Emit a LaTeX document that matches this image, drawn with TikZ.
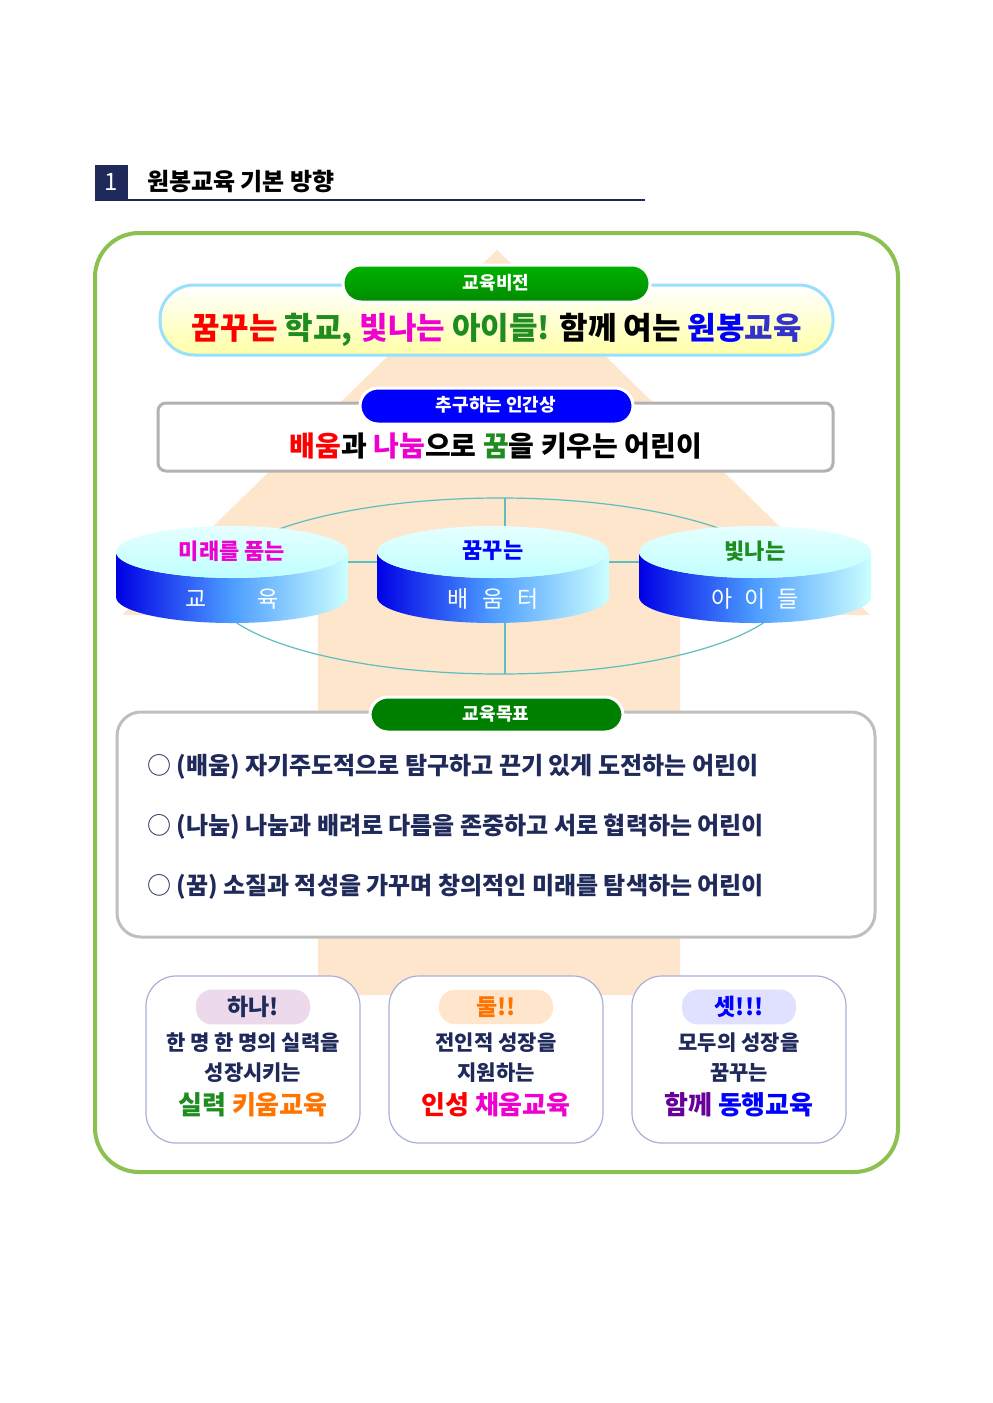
\documentclass[tikz,border=0pt]{standalone}
\usepackage{fontspec}
\setmainfont{Noto Sans CJK KR}
\usetikzlibrary{shapes.geometric}
\definecolor{peach}{HTML}{FDE6CC}
\definecolor{outg}{HTML}{8CC152}
\definecolor{navy}{HTML}{1F2A5A}
\definecolor{teal1}{HTML}{5BBFC0}
\definecolor{dgreen}{HTML}{1E8C1E}
\definecolor{mag}{HTML}{F000D0}
\definecolor{bordb}{HTML}{A8B0D8}
\newcommand{\fz}[1]{\fontsize{#1}{#1}\selectfont}
\tikzset{
  tab/.style={rounded corners=9pt,minimum height=18pt,text=white,font=\bfseries\fz{9}},
  goal/.style={anchor=west,text=navy,font=\bfseries\fz{12}},
  bbox/.style={draw=bordb,line width=0.6pt,rounded corners=15pt,fill=white},
  pill/.style={rounded corners=8pt,minimum width=57pt,minimum height=16pt,font=\bfseries\fz{11.5}},
  btxt/.style={text=navy,font=\bfseries\fz{10.5}},
}
\begin{document}
\begin{tikzpicture}[x=0.5pt,y=0.5pt]
\useasboundingbox (0,0) rectangle (992,-1403);
\fill[white] (0,0) rectangle (992,-1403);
% title
\fill[navy] (95,-165) rectangle (128,-200);
\node[text=white,font=\fz{12}] (n1) at (111.5,-182) {1};
\node[anchor=west,font=\bfseries\fz{12}] (ttl) at (140,-181) {원봉교육 기본 방향};
\draw[navy,line width=0.6pt] (95,-200) -- (645,-200);
% outer frame
\draw[outg,line width=2pt,rounded corners=22pt] (95,-233) rectangle (898,-1172);
% peach arrow
\fill[peach] (497,-250) -- (122,-615) -- (318,-615) -- (318,-995) -- (680,-995) -- (680,-615) -- (870,-615) -- cycle;
% ellipse with cross
\draw[teal1,line width=0.6pt] (500,-586) ellipse [x radius=290,y radius=88];
\draw[teal1,line width=0.6pt] (505,-498) -- (505,-674);
\draw[teal1,line width=0.6pt] (300,-562) -- (700,-562);
% vision banner
\draw[draw=blue!30!cyan!40,line width=1.5pt,top color=white,bottom color=yellow!35,rounded corners=17pt] (160,-285) rectangle (833,-355);
\node[font=\bfseries\fz{15.5}] (vis) at (497,-330) {\textcolor{red}{꿈꾸는} \textcolor{dgreen}{학교,} \textcolor{mag}{빛나는} \textcolor{dgreen}{아이들!} 함께 여는 \textcolor{blue}{원봉}\textcolor{blue!60!gray}{교육}};
\draw[white,line width=1.5pt,top color=green!70!black,bottom color=green!55!black,rounded corners=9pt] (343,-265) rectangle (650,-302);
\node[text=white,font=\bfseries\fz{9}] (t1) at (496,-283) {교육비전};
% human box
\draw[gray!60,line width=1.5pt,fill=white,rounded corners=4pt] (158,-403) rectangle (833,-471);
\draw[white,line width=1.5pt,fill=blue,rounded corners=9pt] (360,-388) rectangle (633,-424);
\node[text=white,font=\bfseries\fz{9}] (t2) at (496,-405) {추구하는 인간상};
\node[font=\bfseries\fz{14}] (hum) at (496,-446) {\textcolor{red}{배움}과 \textcolor{mag}{나눔}으로 \textcolor{dgreen}{꿈}을 키우는 어린이};
% discs
\foreach \cx/\top/\tc/\bot in {232/미래를 품는/mag/{교\hspace{2.2em}육},493/꿈꾸는/blue/{배\hspace{0.6em}움\hspace{0.6em}터},755/빛나는/dgreen/{아\hspace{0.5em}이\hspace{0.5em}들}}{
  \shade[left color=blue!90!black,right color=cyan!20,middle color=blue!55!cyan!70] (\cx-116,-552) -- (\cx-116,-597) arc[start angle=180,end angle=360,x radius=116,y radius=26] -- (\cx+116,-552) arc[start angle=0,end angle=-180,x radius=116,y radius=26] -- cycle;
  \shade[top color=cyan!10,bottom color=cyan!25] (\cx,-552) ellipse [x radius=116,y radius=26];
  \node[text=\tc,font=\bfseries\fz{11}] at (\cx,-551) {\top};
  \node[text=white,font=\fz{11.5}] at (\cx,-599) {\bot};
}
% goals
\draw[gray!50,line width=1.5pt,fill=white,rounded corners=12pt] (117,-712) rectangle (875,-937);
\draw[white,line width=1.5pt,fill=green!50!black,rounded corners=9pt] (370,-697) rectangle (623,-732);
\node[text=white,font=\bfseries\fz{9}] (t3) at (496,-714) {교육목표};
\node[goal] (g1) at (140,-767) {\mdseries○\ \bfseries(배움) 자기주도적으로 탐구하고 끈기 있게 도전하는 어린이};
\node[goal] (g2) at (140,-827) {\mdseries○\ \bfseries(나눔) 나눔과 배려로 다름을 존중하고 서로 협력하는 어린이};
\node[goal] (g3) at (140,-887) {\mdseries○\ \bfseries(꿈) 소질과 적성을 가꾸며 창의적인 미래를 탐색하는 어린이};
% bottom boxes
\foreach \x/\pc/\tcol/\lab/\la/\lb/\lc in {
  253/{violet!15}/navy/하나!/{한 명 한 명의 실력을}/{성장시키는}/{\textcolor{dgreen}{실력} \textcolor{orange!90!red}{키움교육}},
  496/{orange!20}/{orange!90!red}/둘!!/{전인적 성장을}/{지원하는}/{\textcolor{red}{인성} \textcolor{mag}{채움교육}},
  739/{blue!12}/blue/셋!!!/{모두의 성장을}/{꿈꾸는}/{\textcolor{violet!80!blue}{함께} \textcolor{blue}{동행교육}}}{
  \draw[bbox] (\x-107,-976) rectangle (\x+107,-1143);
  \node[pill,fill=\pc,text=\tcol] at (\x,-1007) {\lab};
  \node[btxt] at (\x,-1043) {\la};
  \node[btxt] at (\x,-1073) {\lb};
  \node[font=\bfseries\fz{13}] at (\x,-1105) {\lc};
}
\end{tikzpicture}
\end{document}
